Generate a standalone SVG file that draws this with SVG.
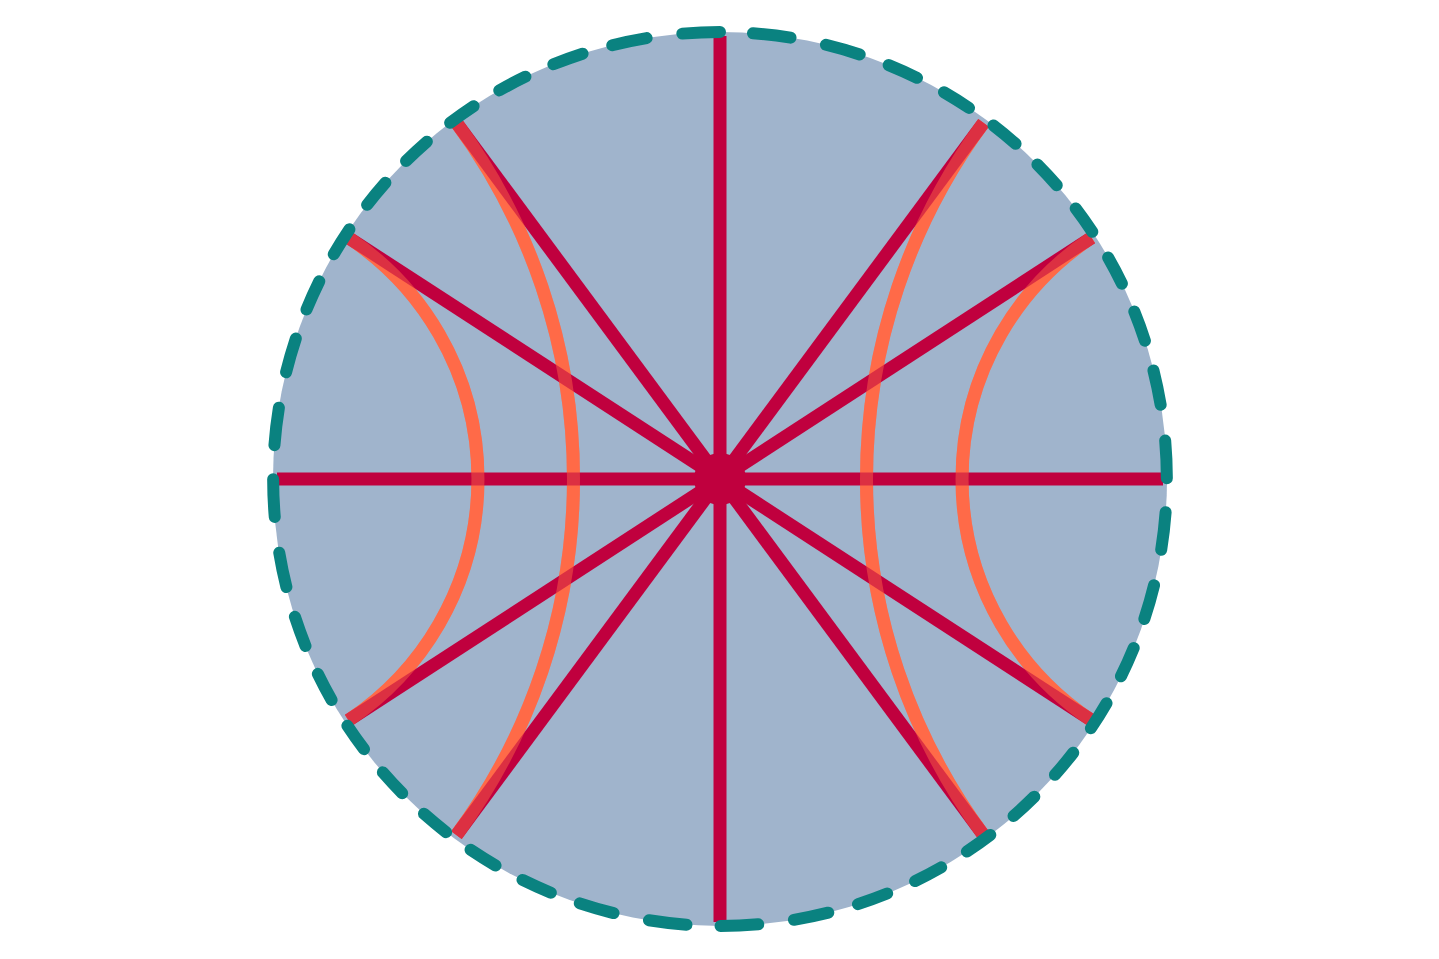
<svg xmlns="http://www.w3.org/2000/svg" xmlns:xlink="http://www.w3.org/1999/xlink" width="1439" height="959" viewBox="0 0 1439 959">
<style>
.disk{fill:#a0b4cc;stroke:none}
.diam{stroke:#c0003e;stroke-width:13;stroke-linecap:butt;fill:none}
.hub{fill:#c0003e}
.geo{stroke:#ff6a48;stroke-width:13;fill:none}
.geo-over{opacity:0.45}
.rim{fill:none;stroke:#0a8280;stroke-width:12;stroke-linecap:round;stroke-dasharray:37.76 35.97 35.11 30.89 31.05 30.58 29.49 30.19 28.71 29.96 28.40 29.96 28.71 30.19 29.49 30.58 31.05 30.89 35.11 36.12 37.76 34.17}
</style>
<defs>
<g id="arcs">
<path class="geo" d="M 348.5 237.7 A 289.6 289.6 0 0 1 348.5 720.3"/>
<path class="geo" d="M 456.5 122.9 A 600.4 600.4 0 0 1 456.5 835.1"/>
<path class="geo" d="M 1091.5 237.7 A 289.6 289.6 0 0 0 1091.5 720.3"/>
<path class="geo" d="M 983.5 122.9 A 600.4 600.4 0 0 0 983.5 835.1"/>
</g>
</defs>
<rect width="1439" height="959" fill="#ffffff"/>
<g id="disk">
<circle class="disk" cx="720" cy="479" r="447"/>
</g>
<g id="geodesics-under">
<use xlink:href="#arcs"/>
</g>
<g id="connectors">
<line class="diam" x1="720" y1="36" x2="720" y2="922"/>
<line class="diam" x1="277" y1="479" x2="1163" y2="479"/>
<line class="diam" x1="348.5" y1="237.7" x2="1091.5" y2="720.3"/>
<line class="diam" x1="1091.5" y1="237.7" x2="348.5" y2="720.3"/>
<line class="diam" x1="456.5" y1="122.9" x2="983.5" y2="835.1"/>
<line class="diam" x1="983.5" y1="122.9" x2="456.5" y2="835.1"/>
</g>
<g id="center">
<circle class="hub" cx="720" cy="479" r="26"/>
</g>
<g id="geodesics" class="geo-over">
<use xlink:href="#arcs"/>
</g>
<g id="boundary">
<path class="rim" d="M 720 32 A 447 447 0 0 0 720 926 A 447 447 0 0 0 720 32"/>
</g>
</svg>
